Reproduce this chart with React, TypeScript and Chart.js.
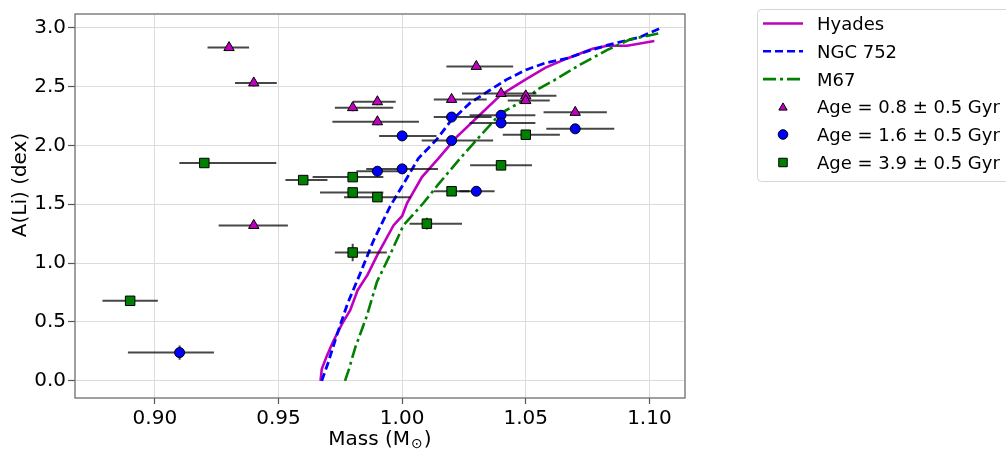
import React, { useEffect, useRef } from 'react';
import { Chart, registerables } from 'chart.js';

Chart.register(...registerables);

// ---------- data ----------
const xTicks = [0.9, 0.95, 1.0, 1.05, 1.1];
const yTicks = [0, 0.5, 1.0, 1.5, 2.0, 2.5, 3.0];

const hyadesMass = [0.967, 0.9675, 0.9695, 0.972, 0.9756, 0.979, 0.982, 0.986, 0.99, 0.9965, 1.0, 1.002, 1.008, 1.0147, 1.022, 1.032, 1.04, 1.05, 1.058, 1.067, 1.077, 1.083, 1.091, 1.102];
const hyadesLi = [0.0, 0.1, 0.21, 0.33, 0.48, 0.6, 0.77, 0.9, 1.07, 1.32, 1.4, 1.51, 1.73, 1.89, 2.07, 2.27, 2.43, 2.56, 2.66, 2.74, 2.82, 2.845, 2.845, 2.885];

const ngc752Mass = [0.9675, 0.97, 0.9736, 0.978, 0.983, 0.9884, 0.9951, 1.0005, 1.0066, 1.014, 1.0194, 1.0275, 1.0356, 1.0424, 1.05, 1.058, 1.067, 1.075, 1.083, 1.0964, 1.104];
const ngc752Li = [0.0, 0.15, 0.39, 0.66, 0.91, 1.19, 1.48, 1.67, 1.89, 2.05, 2.2, 2.36, 2.47, 2.56, 2.64, 2.7, 2.74, 2.8, 2.85, 2.92, 2.99];

const m67Mass = [0.9769, 0.9785, 0.981, 0.9857, 0.9898, 0.9951, 1.0005, 1.0086, 1.0147, 1.0235, 1.0316, 1.0397, 1.0491, 1.0552, 1.0613, 1.072, 1.083, 1.0923, 1.1038];
const m67Li = [0.0, 0.1, 0.28, 0.55, 0.84, 1.07, 1.32, 1.51, 1.67, 1.89, 2.08, 2.27, 2.38, 2.48, 2.55, 2.685, 2.81, 2.9, 2.95];

// Age = 0.8 Gyr (triangles)
const age08Mass = [0.93, 0.94, 0.94, 0.98, 0.99, 0.99, 1.02, 1.03, 1.04, 1.05, 1.05, 1.07];
const age08Li = [2.83, 2.53, 1.32, 2.32, 2.37, 2.2, 2.39, 2.67, 2.44, 2.42, 2.38, 2.28];
const age08ErrLo = [0.0087, 0.0076, 0.0142, 0.0072, 0.0099, 0.0182, 0.0072, 0.0121, 0.0158, 0.0112, 0.0073, 0.0128];
const age08ErrHi = [0.0081, 0.0093, 0.0138, 0.0164, 0.0074, 0.0168, 0.0142, 0.0149, 0.0143, 0.0124, 0.0097, 0.0128];
const age08ErrY = [0.03, 0.03, 0.03, 0.03, 0.03, 0.03, 0.03, 0.03, 0.03, 0.03, 0.03, 0.03];

// Age = 1.6 Gyr (circles)
const age16Mass = [0.91, 0.99, 1.0, 1.0, 1.02, 1.02, 1.03, 1.04, 1.04, 1.07];
const age16Li = [0.24, 1.78, 1.8, 2.08, 2.04, 2.24, 1.61, 2.255, 2.19, 2.14];
const age16ErrLo = [0.0209, 0.0085, 0.0145, 0.0093, 0.0121, 0.0072, 0.0068, 0.0127, 0.0127, 0.0117];
const age16ErrHi = [0.0139, 0.009, 0.0145, 0.0139, 0.0168, 0.0162, 0.0074, 0.0139, 0.0139, 0.0158];
const age16ErrY = [0.06, 0.03, 0.03, 0.03, 0.03, 0.03, 0.03, 0.03, 0.03, 0.03];

// Age = 3.9 Gyr (squares)
const age39Mass = [0.89, 0.92, 0.96, 0.98, 0.98, 0.98, 0.99, 1.01, 1.02, 1.04, 1.05];
const age39Li = [0.68, 1.85, 1.705, 1.73, 1.6, 1.09, 1.56, 1.335, 1.61, 1.83, 2.09];
const age39ErrLo = [0.0112, 0.0101, 0.0072, 0.0162, 0.0132, 0.0072, 0.0135, 0.007, 0.0072, 0.0125, 0.0093];
const age39ErrHi = [0.0112, 0.0291, 0.0098, 0.0124, 0.0124, 0.0138, 0.0135, 0.0142, 0.0072, 0.0125, 0.0138];
const age39ErrY = [0.03, 0.03, 0.03, 0.03, 0.03, 0.075, 0.03, 0.05, 0.03, 0.03, 0.03];

const legendLabels = ['Hyades', 'NGC 752', 'M67', 'Age = 0.8 ± 0.5 Gyr', 'Age = 1.6 ± 0.5 Gyr', 'Age = 3.9 ± 0.5 Gyr'];

// ---------- styles ----------
const MAGENTA = '#bf00bf';
const BLUE = '#0000ff';
const GREEN = '#008000';
const FONT = '"DejaVu Sans", Verdana, sans-serif';

const zip = (xs: number[], ys: number[]) => xs.map((x, i) => ({ x, y: ys[i] }));

function markerPath(ctx: CanvasRenderingContext2D, style: string, x: number, y: number, r: number) {
  ctx.beginPath();
  if (style === 'circle') {
    ctx.arc(x, y, r, 0, Math.PI * 2);
  } else if (style === 'rect') {
    const s = Math.SQRT1_2 * r;
    ctx.rect(x - s, y - s, 2 * s, 2 * s);
  } else {
    const h = r;
    ctx.moveTo(x, y - h);
    ctx.lineTo(x + h * 0.866, y + h * 0.5);
    ctx.lineTo(x - h * 0.866, y + h * 0.5);
    ctx.closePath();
  }
}

const errorBarPlugin = {
  id: 'errorBars',
  beforeDatasetDraw(chart: any, args: any) {
    const ds = chart.data.datasets[args.index];
    if (!ds.errLo) return;
    const xs = chart.scales.x;
    const ys = chart.scales.y;
    const ctx = chart.ctx as CanvasRenderingContext2D;
    ctx.save();
    ctx.strokeStyle = 'rgba(0,0,0,0.72)';
    ctx.lineWidth = 2;
    ds.data.forEach((p: any, i: number) => {
      const py = ys.getPixelForValue(p.y);
      const px = xs.getPixelForValue(p.x);
      ctx.beginPath();
      ctx.moveTo(xs.getPixelForValue(p.x - ds.errLo[i]), py);
      ctx.lineTo(xs.getPixelForValue(p.x + ds.errHi[i]), py);
      ctx.moveTo(px, ys.getPixelForValue(p.y - ds.errY[i]));
      ctx.lineTo(px, ys.getPixelForValue(p.y + ds.errY[i]));
      ctx.stroke();
    });
    ctx.restore();
  },
};

const framePlugin = {
  id: 'frame',
  beforeDatasetsDraw(chart: any) {
    const { ctx, chartArea } = chart;
    ctx.save();
    ctx.strokeStyle = '#6e6e6e';
    ctx.lineWidth = 1.3;
    ctx.strokeRect(chartArea.left, chartArea.top, chartArea.right - chartArea.left, chartArea.bottom - chartArea.top);
    ctx.restore();
  },
};

const decorPlugin = {
  id: 'decor',
  afterDraw(chart: any) {
    const ctx = chart.ctx as CanvasRenderingContext2D;
    const area = chart.chartArea;
    ctx.save();
    // x title with subscript sun symbol
    ctx.fillStyle = '#000';
    ctx.textBaseline = 'alphabetic';
    ctx.textAlign = 'left';
    const big = `20px ${FONT}`;
    const small = `14px ${FONT}`;
    const a = 'Mass (M';
    const b = '⊙';
    const c = ')';
    ctx.font = big;
    const wa = ctx.measureText(a).width;
    const wc = ctx.measureText(c).width;
    ctx.font = small;
    const wb = ctx.measureText(b).width;
    const total = wa + wb + wc + 2;
    const cx = (area.left + area.right) / 2;
    let x0 = cx - total / 2;
    const base = 445;
    ctx.font = big;
    ctx.fillText(a, x0, base);
    ctx.font = small;
    ctx.fillText(b, x0 + wa + 1, base + 3);
    ctx.font = big;
    ctx.fillText(c, x0 + wa + wb + 2, base);

    // y title
    ctx.save();
    ctx.translate(25.5, 185);
    ctx.rotate(-Math.PI / 2);
    ctx.textAlign = 'center';
    ctx.font = big;
    ctx.fillText('A(Li) (dex)', 0, 0);
    ctx.restore();

    // legend
    const lx = 757.5;
    const ly = 9.5;
    const lw = 260;
    const lh = 172;
    const rad = 4;
    ctx.beginPath();
    ctx.moveTo(lx + rad, ly);
    ctx.lineTo(lx + lw - rad, ly);
    ctx.arcTo(lx + lw, ly, lx + lw, ly + rad, rad);
    ctx.lineTo(lx + lw, ly + lh - rad);
    ctx.arcTo(lx + lw, ly + lh, lx + lw - rad, ly + lh, rad);
    ctx.lineTo(lx + rad, ly + lh);
    ctx.arcTo(lx, ly + lh, lx, ly + lh - rad, rad);
    ctx.lineTo(lx, ly + rad);
    ctx.arcTo(lx, ly, lx + rad, ly, rad);
    ctx.closePath();
    ctx.fillStyle = 'rgba(255,255,255,0.85)';
    ctx.fill();
    ctx.strokeStyle = '#d6d6d6';
    ctx.lineWidth = 1;
    ctx.stroke();

    const baselines = [30, 57.8, 85.6, 113.2, 141, 169];
    const lineStyles = [
      { color: MAGENTA, dash: [] as number[] },
      { color: BLUE, dash: [8, 4] },
      { color: GREEN, dash: [13, 4, 3, 4] },
    ];
    const markers = [
      { style: 'triangle', color: MAGENTA },
      { style: 'circle', color: BLUE },
      { style: 'rect', color: GREEN },
    ];
    ctx.font = `18px ${FONT}`;
    ctx.textAlign = 'left';
    ctx.textBaseline = 'alphabetic';
    legendLabels.forEach((label, i) => {
      const b0 = baselines[i];
      const my = b0 - 6.5;
      if (i < 3) {
        const ls = lineStyles[i];
        ctx.save();
        ctx.strokeStyle = ls.color;
        ctx.lineWidth = 2.6;
        ctx.setLineDash(ls.dash);
        ctx.beginPath();
        ctx.moveTo(763, my);
        ctx.lineTo(803, my);
        ctx.stroke();
        ctx.restore();
      } else {
        const m = markers[i - 3];
        ctx.save();
        markerPath(ctx, m.style, 783, my + (m.style === 'triangle' ? 1 : 0), m.style === 'rect' ? 6 : 4.8);
        ctx.fillStyle = m.color;
        ctx.fill();
        ctx.strokeStyle = '#000';
        ctx.lineWidth = 1;
        ctx.stroke();
        ctx.restore();
      }
      ctx.fillStyle = '#000';
      ctx.fillText(label, 817, b0);
    });
    ctx.restore();
  },
};

export default function App() {
  const ref = useRef<HTMLCanvasElement | null>(null);

  useEffect(() => {
    if (!ref.current) return;
    Chart.defaults.font.family = FONT;
    const chart = new Chart(ref.current, {
      type: 'scatter',
      data: {
        datasets: [
          {
            label: 'Age = 0.8 ± 0.5 Gyr',
            data: zip(age08Mass, age08Li),
            pointStyle: 'triangle',
            pointRadius: 6,
            backgroundColor: MAGENTA,
            borderColor: '#000',
            borderWidth: 1,
            order: 3,
            errLo: age08ErrLo,
            errHi: age08ErrHi,
            errY: age08ErrY,
          } as any,
          {
            label: 'Age = 1.6 ± 0.5 Gyr',
            data: zip(age16Mass, age16Li),
            pointStyle: 'circle',
            pointRadius: 5,
            backgroundColor: BLUE,
            borderColor: '#000',
            borderWidth: 1,
            order: 2,
            errLo: age16ErrLo,
            errHi: age16ErrHi,
            errY: age16ErrY,
          } as any,
          {
            label: 'Age = 3.9 ± 0.5 Gyr',
            data: zip(age39Mass, age39Li),
            pointStyle: 'rect',
            pointRadius: 6.7,
            backgroundColor: GREEN,
            borderColor: '#000',
            borderWidth: 1,
            order: 1,
            errLo: age39ErrLo,
            errHi: age39ErrHi,
            errY: age39ErrY,
          } as any,
          {
            label: 'Hyades',
            data: zip(hyadesMass, hyadesLi),
            showLine: true,
            pointRadius: 0,
            borderColor: MAGENTA,
            borderWidth: 2.6,
            order: 6,
          },
          {
            label: 'NGC 752',
            data: zip(ngc752Mass, ngc752Li),
            showLine: true,
            pointRadius: 0,
            borderColor: BLUE,
            borderWidth: 2.8,
            borderDash: [8, 4],
            order: 5,
          },
          {
            label: 'M67',
            data: zip(m67Mass, m67Li),
            showLine: true,
            pointRadius: 0,
            borderColor: GREEN,
            borderWidth: 2.6,
            borderDash: [13, 4, 3, 4],
            order: 4,
          },
        ],
      },
      options: {
        responsive: false,
        animation: false,
        events: [],
        layout: { padding: { left: 0, right: 321, top: 1, bottom: 0 } },
        plugins: {
          legend: { display: false },
          tooltip: { enabled: false },
        },
        scales: {
          x: {
            type: 'linear',
            min: 0.8677,
            max: 1.1144,
            afterFit: (s: any) => {
              s.height = 60;
            },
            afterBuildTicks: (s: any) => {
              s.ticks = xTicks.map((v) => ({ value: v }));
            },
            ticks: {
              callback: (v: any) => Number(v).toFixed(2),
              color: '#000',
              font: { size: 20, family: FONT },
              padding: 3,
              autoSkip: false,
              maxRotation: 0,
            },
            grid: { color: '#dcdcdc', lineWidth: 1, tickLength: 6, tickColor: '#555', tickWidth: 1.2 },
            border: { display: false },
          },
          y: {
            type: 'linear',
            min: -0.1454,
            max: 3.115,
            afterFit: (s: any) => {
              s.width = 75;
            },
            afterBuildTicks: (s: any) => {
              s.ticks = yTicks.map((v) => ({ value: v }));
            },
            ticks: {
              callback: (v: any) => Number(v).toFixed(1),
              color: '#000',
              font: { size: 20, family: FONT },
              padding: 2,
              autoSkip: false,
            },
            grid: { color: '#dcdcdc', lineWidth: 1, tickLength: 7, tickColor: '#555', tickWidth: 1.2 },
            border: { display: false },
          },
        },
      },
      plugins: [framePlugin, errorBarPlugin, decorPlugin],
    });
    return () => chart.destroy();
  }, []);

  return (
    <div style={{ position: 'absolute', left: 0, top: 0, width: 1006, height: 458, background: '#fff' }}>
      <canvas ref={ref} width={1006} height={458} style={{ display: 'block' }} />
    </div>
  );
}
